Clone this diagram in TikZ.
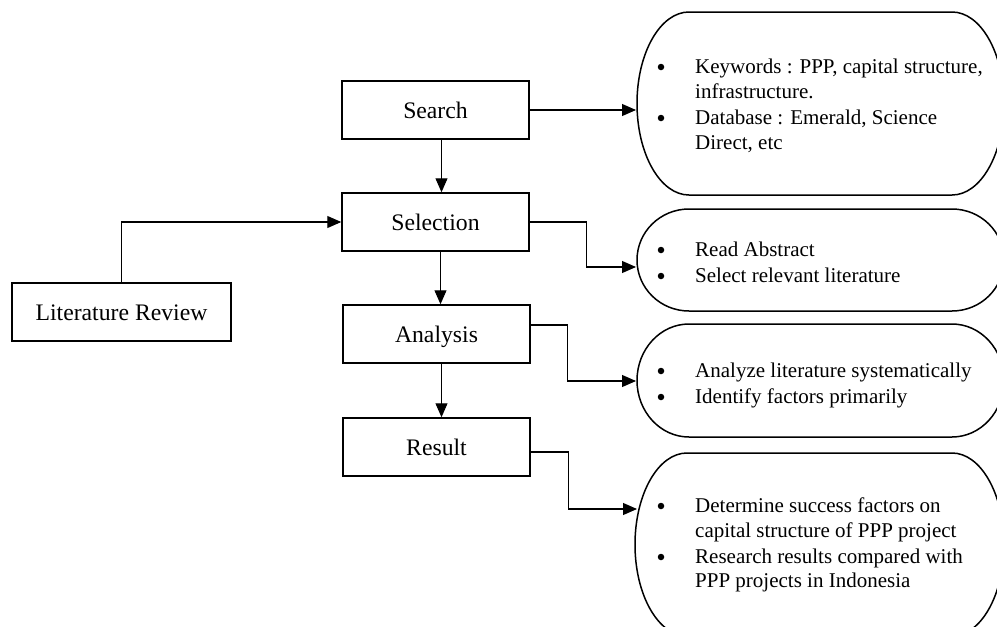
\documentclass[tikz,border=0pt]{standalone}
\usepackage{fontspec}
\setmainfont{Liberation Serif}
\usetikzlibrary{arrows.meta}
\newcommand\myboxfont{\fontsize{23.7}{28}\selectfont}
\newcommand\mybubfont{\fontsize{21}{25}\selectfont}
\tikzset{
  stepbox/.style={draw, line width=1.5pt, minimum width=187pt, minimum height=58pt,
    inner sep=0pt, font=\myboxfont, text height=16pt, text depth=0pt},
  conn/.style={line width=1.1pt, -{Triangle[length=14pt,width=12pt]}},
  bubline/.style={line width=1.5pt},
  btext/.style={anchor=base west, inner sep=0pt, font=\mybubfont},
  bul/.style={circle, fill, inner sep=0pt, minimum size=6.5pt},
}
\begin{document}
\begin{tikzpicture}[x=1pt,y=-1pt]
\useasboundingbox (0,0) rectangle (997,627);
\clip (0,0) rectangle (997,627);
\fill[white] (0,0) rectangle (997,627);

% left boxes
\node[stepbox] (search) at (435.5,110) {Search};
\node[stepbox] (selection) at (435.5,222) {Selection};
\node[stepbox] (analysis) at (436.5,334) {Analysis};
\node[stepbox] (result) at (436.5,447) {Result};
\node[stepbox, minimum width=219pt] (litrev) at (121.5,312) {Literature Review};

% bubbles
\draw[bubline] (689,12) -- (952,12) arc[start angle=90,end angle=-90,x radius=52pt,y radius=91.5pt]
  -- (689,195) arc[start angle=270,end angle=90,x radius=52pt,y radius=91.5pt] -- cycle;
\draw[bubline] (689,209) -- (952,209) arc[start angle=90,end angle=-90,x radius=52pt,y radius=51pt]
  -- (689,311) arc[start angle=270,end angle=90,x radius=52pt,y radius=51pt] -- cycle;
\draw[bubline] (689,324) -- (952,324) arc[start angle=90,end angle=-90,x radius=52pt,y radius=56.5pt]
  -- (689,437) arc[start angle=270,end angle=90,x radius=52pt,y radius=56.5pt] -- cycle;
\draw[bubline] (687,453) -- (952,453) arc[start angle=90,end angle=-90,x radius=52pt,y radius=91.5pt]
  -- (687,636) arc[start angle=270,end angle=90,x radius=52pt,y radius=91.5pt] -- cycle;

\coordinate (b1in) at (636,110);
\coordinate (b2in) at (636,267);
\coordinate (b3in) at (636,381);
\coordinate (b4in) at (637,509);

% bubble texts
\node[bul] (u1) at (661,67) {};
\node[btext] (t1a) at (695,73) {Keywords : PPP, capital structure,};
\node[btext] (t1b) at (695,98) {infrastructure.};
\node[bul] (u2) at (661,118) {};
\node[btext] (t1c) at (695,124) {Database : Emerald, Science};
\node[btext] (t1d) at (695,149) {Direct, etc};

\node[bul] (u3) at (661,250) {};
\node[btext] (t2a) at (695,256) {Read Abstract};
\node[bul] (u4) at (661,276) {};
\node[btext] (t2b) at (695,282) {Select relevant literature};

\node[bul] (u5) at (661,371) {};
\node[btext] (t3a) at (695,377) {Analyze literature systematically};
\node[bul] (u6) at (661,397) {};
\node[btext] (t3b) at (695,403) {Identify factors primarily};

\node[bul] (u7) at (661,506) {};
\node[btext] (t4a) at (695,512) {Determine success factors on};
\node[btext] (t4b) at (695,537) {capital structure of PPP project};
\node[bul] (u8) at (661,557) {};
\node[btext] (t4c) at (695,563) {Research results compared with};
\node[btext] (t4d) at (695,587) {PPP projects in Indonesia};

% connectors
\draw[conn] ([xshift=6pt]search.south) -- ([xshift=6pt]selection.north);
\draw[conn] ([xshift=5pt]selection.south) -- ([xshift=5pt]selection.south |- analysis.north);
\draw[conn] ([xshift=5pt]analysis.south) -- ([xshift=5pt]result.north);
\draw[conn] (litrev.north) |- (selection.west);
\draw[conn] (search.east) -- (b1in);
\draw[conn] (selection.east) -- ++(57,0) |- (b2in);
\draw[conn] ([yshift=9pt]analysis.east) -- ++(37,0) |- (b3in);
\draw[conn] ([yshift=-5pt]result.east) -- ++(38,0) |- (b4in);
\end{tikzpicture}
\end{document}
